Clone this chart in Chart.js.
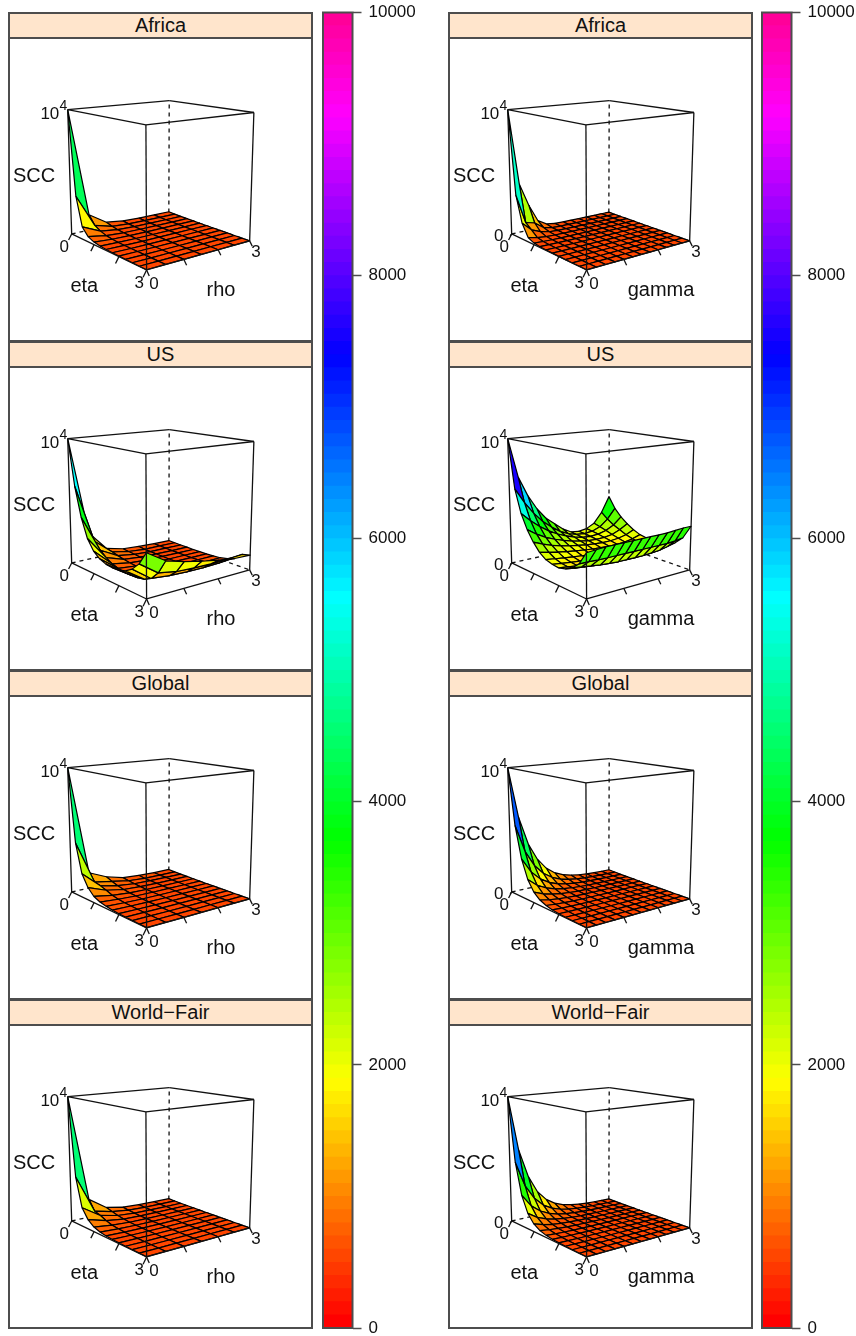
<!DOCTYPE html>
<html>
<head>
<meta charset="utf-8">
<title>SCC surfaces</title>
<script src="https://cdn.jsdelivr.net/npm/chart.js@4"></script>
<style>
  html, body { margin: 0; padding: 0; background: #fff; }
  body { position: relative; width: 856px; height: 1336px; overflow: hidden; font-family: "Liberation Sans", Arial, sans-serif; }
  canvas { position: absolute; }
  .strip { position: absolute; box-sizing: border-box; width: 305px; height: 27px; background: #ffe5cc; border: 2px solid #4d4d4d; text-align: center; font-size: 20px; line-height: 23px; color: #111; }
  .frame { position: absolute; box-sizing: border-box; width: 305px; height: 305px; border: 2px solid #4d4d4d; pointer-events: none; }
</style>
</head>
<body>
<script>
// --- Data ---
const etaLevels = [0, 0.25, 0.5, 0.75, 1, 1.25, 1.5, 1.75, 2, 2.25, 2.5, 2.75, 3];
const rhoLevels = [0, 0.5, 1, 1.5, 2, 2.5, 3];
const gammaLevels = [0, 0.25, 0.5, 0.75, 1, 1.25, 1.5, 1.75, 2, 2.25, 2.5, 2.75, 3];

const regionNames = ["Africa", "US", "Global", "World\u2212Fair"];
const sccZTicks = [0, 10000];
const boxTicks = [0, 1, 2, 3];
const keyTicks = [0, 2000, 4000, 6000, 8000, 10000];

// one row per eta level, one column per rho level
const africaRho = [
  [10000, 1300, 350, 150, 90, 70, 60],
  [3300, 600, 200, 90, 60, 45, 35],
  [1000, 330, 120, 60, 40, 30, 25],
  [430, 170, 70, 40, 30, 22, 18],
  [210, 90, 45, 28, 20, 16, 14],
  [120, 55, 30, 20, 15, 12, 10],
  [80, 40, 22, 15, 12, 10, 8],
  [60, 30, 18, 12, 10, 8, 7],
  [45, 25, 15, 10, 8, 7, 6],
  [35, 20, 12, 9, 7, 6, 5],
  [28, 16, 10, 8, 6, 5, 5],
  [22, 13, 9, 7, 5, 5, 4],
  [18, 11, 8, 6, 5, 4, 4]
];
const usRho = [
  [10000, 2200, 600, 250, 150, 90, 80],
  [6400, 1700, 500, 210, 90, 90, 70],
  [4100, 1150, 380, 170, 90, 75, 60],
  [2600, 750, 280, 130, 85, 65, 55],
  [1800, 450, 200, 90, 75, 60, 50],
  [1400, 300, 150, 90, 70, 60, 55],
  [1200, 220, 120, 90, 75, 70, 70],
  [1150, 210, 130, 90, 95, 95, 95],
  [1200, 250, 160, 130, 120, 130, 150],
  [1350, 370, 250, 210, 200, 230, 280],
  [1700, 650, 500, 440, 430, 480, 580],
  [2300, 1300, 1050, 980, 950, 980, 1050],
  [3300, 2400, 2000, 1700, 1450, 1250, 1200]
];
const globalRho = [
  [10000, 1300, 650, 260, 160, 90, 90],
  [4200, 700, 450, 190, 90, 70, 55],
  [1900, 600, 290, 130, 80, 55, 45],
  [1000, 450, 180, 90, 55, 40, 35],
  [500, 250, 110, 60, 40, 30, 25],
  [280, 150, 70, 40, 28, 22, 18],
  [170, 95, 48, 30, 22, 17, 14],
  [110, 65, 35, 22, 16, 13, 11],
  [75, 45, 26, 17, 13, 10, 9],
  [55, 34, 20, 14, 10, 8, 7],
  [42, 26, 16, 11, 8, 7, 6],
  [32, 20, 13, 9, 7, 6, 5],
  [25, 16, 10, 8, 6, 5, 4]
];
const worldFairRho = [
  [10000, 1500, 500, 220, 130, 90, 70],
  [3800, 700, 350, 150, 90, 60, 50],
  [1500, 550, 220, 100, 60, 45, 35],
  [750, 330, 130, 65, 42, 32, 26],
  [370, 180, 80, 45, 30, 24, 20],
  [200, 105, 52, 32, 22, 18, 15],
  [125, 68, 36, 23, 17, 14, 12],
  [85, 48, 27, 18, 13, 11, 9],
  [60, 35, 20, 14, 11, 9, 8],
  [45, 27, 16, 11, 9, 7, 6],
  [35, 21, 13, 9, 7, 6, 5],
  [27, 17, 11, 8, 6, 5, 4],
  [21, 14, 9, 7, 5, 4, 4]
];

// one row per eta level, one column per gamma level
const africaGamma = [
  [10000, 4000, 2100, 650, 200, 90, 70, 55, 45, 40, 35, 30, 30],
  [3400, 1000, 800, 260, 90, 60, 45, 35, 30, 28, 25, 22, 20],
  [1300, 600, 280, 110, 60, 40, 30, 25, 22, 20, 18, 16, 15],
  [350, 180, 90, 55, 35, 28, 22, 18, 16, 15, 14, 13, 12],
  [130, 80, 50, 32, 25, 20, 16, 14, 13, 12, 11, 10, 10],
  [70, 50, 35, 25, 20, 16, 14, 12, 11, 10, 9, 9, 8],
  [45, 34, 26, 20, 16, 13, 11, 10, 9, 8, 8, 7, 7],
  [32, 25, 20, 16, 13, 11, 9, 8, 8, 7, 7, 6, 6],
  [24, 20, 16, 13, 11, 9, 8, 7, 7, 6, 6, 5, 5],
  [19, 16, 13, 11, 9, 8, 7, 6, 6, 5, 5, 5, 4],
  [16, 13, 11, 9, 8, 7, 6, 5, 5, 5, 4, 4, 4],
  [13, 11, 9, 8, 7, 6, 5, 5, 4, 4, 4, 4, 3],
  [11, 9, 8, 7, 6, 5, 5, 4, 4, 4, 3, 3, 3]
];
const usGamma = [
  [10000, 6900, 5300, 4100, 3200, 2600, 2000, 1600, 1500, 1600, 1950, 2800, 4100],
  [6200, 5000, 4000, 3200, 2600, 2100, 1750, 1550, 1480, 1550, 1800, 2350, 3200],
  [4400, 3700, 3100, 2600, 2200, 1900, 1650, 1480, 1420, 1470, 1650, 2000, 2600],
  [3300, 2800, 2400, 2100, 1850, 1650, 1500, 1390, 1350, 1370, 1480, 1750, 2150],
  [2500, 2200, 1950, 1750, 1600, 1480, 1380, 1300, 1260, 1270, 1340, 1500, 1800],
  [1900, 1750, 1600, 1480, 1380, 1300, 1230, 1180, 1150, 1160, 1210, 1330, 1550],
  [1550, 1450, 1350, 1270, 1200, 1130, 1080, 1030, 1010, 1020, 1080, 1200, 1450],
  [1400, 1300, 1220, 1150, 1090, 1030, 990, 960, 950, 960, 1010, 1130, 1350],
  [1350, 1250, 1170, 1110, 1060, 1020, 990, 970, 960, 970, 1020, 1130, 1350],
  [1500, 1380, 1290, 1220, 1170, 1130, 1100, 1090, 1080, 1090, 1130, 1230, 1450],
  [1800, 1700, 1600, 1500, 1450, 1400, 1400, 1400, 1400, 1450, 1500, 1650, 1800],
  [2300, 2300, 2250, 2250, 2250, 2250, 2250, 2250, 2250, 2250, 2250, 2300, 2400],
  [3300, 3350, 3400, 3400, 3400, 3400, 3400, 3400, 3400, 3400, 3450, 3500, 3500]
];
const globalGamma = [
  [10000, 6000, 3700, 2300, 1400, 850, 530, 330, 210, 140, 90, 75, 60],
  [5600, 3400, 2100, 1300, 800, 490, 310, 200, 130, 90, 65, 50, 40],
  [3100, 1900, 1180, 730, 450, 280, 180, 120, 80, 58, 44, 34, 28],
  [1650, 1020, 640, 400, 250, 160, 105, 72, 50, 38, 30, 24, 20],
  [850, 540, 340, 215, 140, 92, 62, 44, 33, 26, 20, 17, 14],
  [440, 285, 185, 120, 80, 55, 39, 29, 22, 18, 15, 12, 10],
  [235, 155, 105, 70, 48, 34, 26, 20, 16, 13, 11, 9, 8],
  [125, 85, 60, 42, 30, 22, 17, 14, 11, 9, 8, 7, 6],
  [72, 50, 36, 26, 20, 15, 12, 10, 8, 7, 6, 5, 5],
  [44, 32, 23, 17, 13, 11, 9, 7, 6, 5, 5, 4, 4],
  [29, 21, 16, 12, 10, 8, 7, 6, 5, 4, 4, 4, 3],
  [20, 15, 12, 9, 7, 6, 5, 5, 4, 4, 3, 3, 3],
  [15, 11, 9, 7, 6, 5, 4, 4, 3, 3, 3, 3, 2]
];
const worldFairGamma = [
  [10000, 5700, 3400, 2000, 1200, 720, 440, 280, 180, 120, 85, 65, 50],
  [5000, 2950, 1780, 1060, 640, 390, 245, 160, 105, 72, 52, 40, 32],
  [2500, 1500, 920, 560, 340, 210, 135, 90, 62, 45, 34, 27, 22],
  [1250, 770, 480, 300, 185, 118, 78, 54, 39, 30, 24, 19, 16],
  [620, 390, 250, 160, 105, 70, 48, 35, 26, 21, 17, 14, 12],
  [320, 205, 135, 90, 60, 42, 30, 23, 18, 15, 12, 10, 9],
  [170, 112, 75, 52, 37, 27, 20, 16, 13, 11, 9, 8, 7],
  [95, 65, 45, 32, 24, 18, 14, 12, 10, 8, 7, 6, 5],
  [58, 41, 29, 21, 16, 13, 10, 9, 7, 6, 5, 5, 4],
  [44, 32, 23, 17, 13, 11, 9, 7, 6, 5, 5, 4, 4],
  [29, 21, 16, 12, 10, 8, 7, 6, 5, 4, 4, 4, 3],
  [20, 15, 12, 9, 7, 6, 5, 5, 4, 4, 3, 3, 3],
  [15, 11, 9, 7, 6, 5, 4, 4, 3, 3, 3, 3, 2]
];

const rhoColumn = [africaRho, usRho, globalRho, worldFairRho];
const gammaColumn = [africaGamma, usGamma, globalGamma, worldFairGamma];

// --- Layout and view ---
const columnLefts = [8, 448];
const rowTops = [12, 341, 670, 999];
const stripHeight = 26;
const panelW = 305, panelH = 303;

const axisMax = 3, zMax = 10000;
const turnDeg = 38, tiltDeg = 13, viewDistance = 5;
const pxPerUnit = 648, originX = 151.2, originY = 137.6;

const lineBlack = "#111";
const fontFamily = '"Liberation Sans", Arial, sans-serif';

// --- Utilities ---
const bandCount = 100;
const bandShift = 5;

function bandColor(i) {
    return `hsl(${(324 * i / (bandCount - 1)).toFixed(2)},100%,50%)`;
}

function surfaceColor(meanValue) {
    const band = Math.floor(meanValue / (zMax / bandCount)) + bandShift;
    return bandColor(Math.min(bandCount - 1, band));
}

// cube coordinates run from -0.5 to 0.5 on each side
function cubePoint(eta, other, scc) {
    return [other / axisMax - 0.5, 0.5 - eta / axisMax, scc / zMax - 0.5];
}

function project(p) {
    const t = turnDeg * Math.PI / 180, e = tiltDeg * Math.PI / 180;
    const xr = p[0] * Math.cos(t) - p[1] * Math.sin(t);
    const yr = p[0] * Math.sin(t) + p[1] * Math.cos(t);
    const up = yr * Math.sin(e) + p[2] * Math.cos(e);
    const depth = -yr * Math.cos(e) + p[2] * Math.sin(e);
    return { x: xr / (viewDistance - depth), y: up / (viewDistance - depth), depth };
}

function lineSet(points, extra) {
    return Object.assign({
        data: points.map(project),
        showLine: true,
        fill: false,
        pointRadius: 0,
        borderColor: lineBlack,
        borderWidth: 1.3,
        borderJoinStyle: "round",
        tension: 0
    }, extra || {});
}

// --- Datasets of one panel ---
function boxBack() {
    const b = -0.5, t = 0.5;
    const solid = [
        [[-0.5, 0.5, b], [-0.5, 0.5, t]],
        [[0.5, -0.5, b], [0.5, -0.5, t]],
        [[-0.5, 0.5, t], [0.5, 0.5, t]],
        [[0.5, 0.5, t], [0.5, -0.5, t]]
    ].map(seg => lineSet(seg));
    const dashed = [
        [[-0.5, 0.5, b], [0.5, 0.5, b]],
        [[0.5, 0.5, b], [0.5, -0.5, b]],
        [[0.5, 0.5, b], [0.5, 0.5, t]]
    ].map(seg => lineSet(seg, { borderDash: [4, 4] }));
    return dashed.concat(solid);
}

function boxFront(showZeroTick) {
    const b = -0.5, t = 0.5;
    const segs = [
        [[-0.5, 0.5, b], [-0.5, -0.5, b]],
        [[-0.5, -0.5, b], [0.5, -0.5, b]],
        [[-0.5, -0.5, b], [-0.5, -0.5, t]],
        [[-0.5, 0.5, t], [-0.5, -0.5, t]],
        [[-0.5, -0.5, t], [0.5, -0.5, t]]
    ];
    boxTicks.forEach(v => {
        const a = cubePoint(v, 0, 0);
        segs.push([a, [a[0] - 0.03, a[1], a[2] - 0.045]]);
        const c = cubePoint(axisMax, v, 0);
        segs.push([c, [c[0], c[1] - 0.03, c[2] - 0.035]]);
    });
    if (showZeroTick) {
        const z = cubePoint(0, 0, sccZTicks[0]);
        segs.push([z, [z[0] - 0.035, z[1] - 0.035, z[2]]]);
    }
    return segs.map(seg => lineSet(seg));
}

function surfaceQuads(scc, others) {
    const quads = [];
    for (let i = 0; i < etaLevels.length - 1; i++) {
        for (let j = 0; j < others.length - 1; j++) {
            const corners = [[i, j], [i + 1, j], [i + 1, j + 1], [i, j + 1]];
            const pts = corners.map(c => cubePoint(etaLevels[c[0]], others[c[1]], scc[c[0]][c[1]]));
            const mean = corners.reduce((s, c) => s + scc[c[0]][c[1]], 0) / 4;
            const depth = pts.reduce((s, p) => s + project(p).depth, 0) / 4;
            quads.push({ pts, mean, depth });
        }
    }
    quads.sort((a, b) => a.depth - b.depth);
    return quads.map(q => lineSet(q.pts.concat([q.pts[0]]), {
        fill: "shape",
        backgroundColor: surfaceColor(q.mean),
        borderColor: "#000",
        borderWidth: 1.2
    }));
}

// --- Text around the box, baseline positions inside the panel ---
const boxLabels = {
    id: "boxLabels",
    afterDraw(chart, args, opts) {
        const ctx = chart.ctx;
        ctx.save();
        ctx.fillStyle = "#111";
        ctx.textBaseline = "alphabetic";
        opts.items.forEach(it => {
            ctx.font = `${it.size}px ${fontFamily}`;
            ctx.textAlign = it.align || "center";
            ctx.fillText(it.text, it.x, it.y);
        });
        ctx.restore();
    }
};

function labelItems(otherName, showZero) {
    const items = [
        { text: "10", x: 51.3, y: 81.3, size: 17, align: "right" },
        { text: "4", x: 55.5, y: 72, size: 14 },
        { text: "SCC", x: 26, y: 143.7, size: 20 },
        { text: "0", x: 56.3, y: 214.3, size: 17 },
        { text: "3", x: 131.3, y: 250.3, size: 17 },
        { text: "0", x: 146, y: 251.3, size: 17 },
        { text: "3", x: 248, y: 219.3, size: 17 },
        { text: "eta", x: 76.3, y: 253.5, size: 20 },
        { text: otherName, x: 213, y: 258, size: 20 }
    ];
    if (showZero) items.push({ text: "0", x: 50.7, y: 202.7, size: 17 });
    return items;
}

function addCanvas(left, top, w, h) {
    const c = document.createElement("canvas");
    c.width = w;
    c.height = h;
    c.style.left = left + "px";
    c.style.top = top + "px";
    c.style.width = w + "px";
    c.style.height = h + "px";
    document.body.appendChild(c);
    return c;
}

function addPanel(left, top, title, scc, others, otherName, showZero) {
    const strip = document.createElement("div");
    strip.className = "strip";
    strip.style.left = left + "px";
    strip.style.top = top + "px";
    strip.textContent = title;
    document.body.appendChild(strip);

    const bodyTop = top + stripHeight;
    const canvas = addCanvas(left, bodyTop, panelW, panelH);

    const datasets = boxBack()
        .concat(surfaceQuads(scc, others))
        .concat(boxFront(showZero));
    // the library paints the highest order first
    datasets.forEach((d, i) => { d.order = datasets.length - i; });

    new Chart(canvas, {
        type: "scatter",
        data: { datasets },
        plugins: [boxLabels],
        options: {
            responsive: false,
            animation: false,
            events: [],
            layout: { padding: 0 },
            scales: {
                x: { type: "linear", display: false, min: -originX / pxPerUnit, max: (panelW - originX) / pxPerUnit },
                y: { type: "linear", display: false, min: -(panelH - originY) / pxPerUnit, max: originY / pxPerUnit }
            },
            plugins: {
                legend: { display: false },
                tooltip: { enabled: false },
                boxLabels: { items: labelItems(otherName, showZero) }
            }
        }
    });

    const frame = document.createElement("div");
    frame.className = "frame";
    frame.style.left = left + "px";
    frame.style.top = (bodyTop - 1) + "px";
    document.body.appendChild(frame);
}

// --- Colour key, drawn as floating bars ---
const keyFrame = {
    id: "keyFrame",
    afterDraw(chart) {
        const a = chart.chartArea, ctx = chart.ctx;
        ctx.save();
        ctx.strokeStyle = "#4d4d4d";
        ctx.lineWidth = 2;
        ctx.strokeRect(a.left, a.top, a.right - a.left, a.bottom - a.top);
        ctx.restore();
    }
};

function addKey(left) {
    const canvas = addCanvas(left - 7, 0, 130, 1336);
    const step = zMax / bandCount;
    const datasets = [];
    for (let i = 0; i < bandCount; i++) {
        // each band reaches a little under the next lower one, which paints over it: no seams
        datasets.push({
            data: [[Math.max(0, i * step - step / 3), (i + 1) * step]],
            backgroundColor: bandColor(i),
            borderWidth: 0,
            barPercentage: 1,
            categoryPercentage: 1,
            grouped: false
        });
    }
    new Chart(canvas, {
        type: "bar",
        data: { labels: ["key"], datasets },
        plugins: [keyFrame],
        options: {
            responsive: false,
            animation: false,
            events: [],
            layout: { padding: { left: 7, top: 12.5, bottom: 8, right: 0 } },
            scales: {
                x: { display: false },
                y: {
                    position: "right",
                    min: 0,
                    max: zMax,
                    afterBuildTicks(axis) { axis.ticks = keyTicks.map(v => ({ value: v })); },
                    afterFit(axis) {
                        axis.width = 93.5;
                        axis.paddingTop = 0;
                        axis.paddingBottom = 0;
                    },
                    border: { display: false },
                    grid: { drawOnChartArea: false, tickLength: 9, tickColor: "#4d4d4d", tickWidth: 1.5 },
                    ticks: { color: "#111", padding: 7, font: { size: 17, family: fontFamily }, maxRotation: 0, callback: v => String(v) }
                }
            },
            plugins: { legend: { display: false }, tooltip: { enabled: false } }
        }
    });
}

// --- Main ---
regionNames.forEach((name, r) => {
    addPanel(columnLefts[0], rowTops[r], name, rhoColumn[r], rhoLevels, "rho", false);
    addPanel(columnLefts[1], rowTops[r], name, gammaColumn[r], gammaLevels, "gamma", true);
});
addKey(323);
addKey(762);
</script>
</body>
</html>
